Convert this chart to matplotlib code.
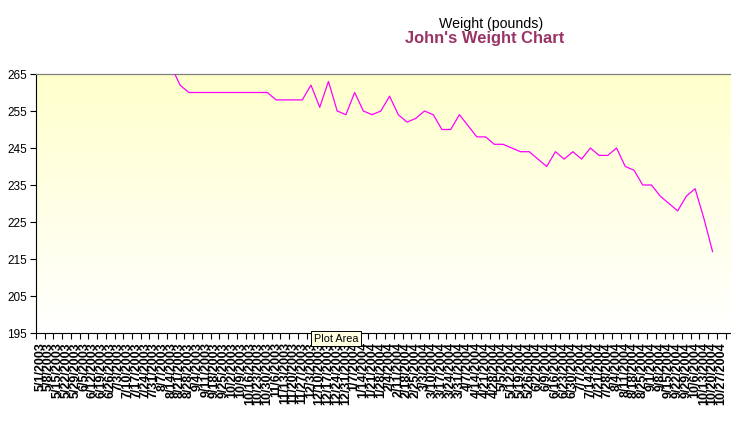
import numpy as np
import matplotlib
matplotlib.use("Agg")
import matplotlib.pyplot as plt
from matplotlib.colors import LinearSegmentedColormap

# weekly category labels
dates = [
    "5/1/2003", "5/8/2003", "5/15/2003", "5/22/2003", "5/29/2003",
    "6/5/2003", "6/12/2003", "6/19/2003", "6/26/2003",
    "7/3/2003", "7/10/2003", "7/17/2003", "7/24/2003", "7/31/2003",
    "8/7/2003", "8/14/2003", "8/21/2003", "8/28/2003",
    "9/4/2003", "9/11/2003", "9/18/2003", "9/25/2003",
    "10/2/2003", "10/9/2003", "10/16/2003", "10/23/2003", "10/30/2003",
    "11/6/2003", "11/13/2003", "11/20/2003", "11/27/2003",
    "12/3/2003", "12/10/2003", "12/17/2003", "12/24/2003", "12/31/2003",
    "1/7/2004", "1/14/2004", "1/21/2004", "1/28/2004",
    "2/4/2004", "2/11/2004", "2/18/2004", "2/25/2004",
    "3/3/2004", "3/10/2004", "3/17/2004", "3/24/2004", "3/31/2004",
    "4/7/2004", "4/14/2004", "4/21/2004", "4/28/2004",
    "5/5/2004", "5/12/2004", "5/19/2004", "5/26/2004",
    "6/2/2004", "6/9/2004", "6/16/2004", "6/23/2004", "6/30/2004",
    "7/7/2004", "7/14/2004", "7/21/2004", "7/28/2004",
    "8/4/2004", "8/11/2004", "8/18/2004", "8/25/2004",
    "9/1/2004", "9/8/2004", "9/15/2004", "9/22/2004", "9/29/2004",
    "10/6/2004", "10/13/2004", "10/20/2004", "10/27/2004",
]

# weight in pounds; the first weeks sit above the 265 top of the axis
weights = [
    278, 277, 276, 276, 275, 274, 273, 273, 272, 271, 270, 270, 269, 268, 268, 267,
    262, 260, 260, 260, 260, 260, 260, 260, 260, 260, 260,
    258, 258, 258, 258,
    262, 256, 263, 255, 254, 260, 255, 254, 255, 259,
    254, 252, 253, 255, 254, 250, 250, 254, 251, 248, 248,
    246, 246, 245, 244, 244, 242, 240, 244, 242, 244, 242,
    245, 243, 243, 245, 240, 239, 235, 235, 232, 230, 228,
    232, 234, 226, 217,
]

y_ticks = [195, 205, 215, 225, 235, 245, 255, 265]

W, H = 731, 423
plt.rcParams['font.family'] = ['Liberation Sans', 'DejaVu Sans']
fig = plt.figure(figsize=(W / 100, H / 100), dpi=100)
fig.patch.set_facecolor('white')

ax = fig.add_axes([36 / W, (H - 333) / H, (W - 36) / W, 259 / H])

# plot area: pale yellow fading to white
grad = np.linspace(0, 1, 256).reshape(-1, 1)
cmap = LinearSegmentedColormap.from_list('fill', ['#FFFFCC', '#FFFFFF'])
ax.imshow(grad, cmap=cmap, aspect='auto', extent=[0, 1, 0, 1],
          transform=ax.transAxes, zorder=0)

x = np.arange(len(weights))
ax.plot(x, weights, color='#FF00FF', lw=0.9, zorder=3)

step = 8.73
ax.set_xlim(-0.5, -0.5 + (W - 36) / step)
ax.set_ylim(195, 265)
ax.set_yticks(y_ticks)
ax.set_yticklabels([str(v) for v in y_ticks], fontsize=8.5)

ax.set_xticks(np.arange(len(dates)))
ax.set_xticklabels(dates, rotation=90, fontsize=9, fontweight='bold')
ax.set_xticks(np.arange(len(dates) + 1) - 0.5, minor=True)
ax.tick_params(axis='x', which='major', length=0, pad=6.5)
ax.tick_params(axis='x', which='minor', length=4, width=0.8, direction='out')
ax.tick_params(axis='y', length=4, width=0.8, direction='out', pad=2.5)

for side in ['left', 'bottom']:
    ax.spines[side].set_color('black')
    ax.spines[side].set_linewidth(0.8)
ax.spines['top'].set_color('#808080')
ax.spines['top'].set_linewidth(0.9)
ax.spines['right'].set_visible(False)

fig.text(491 / W, 1 - 24 / H, "Weight (pounds)", ha='center', va='center',
         fontsize=10.2, color='black')
fig.text(485 / W, 1 - 39 / H, "John's Weight Chart", ha='center', va='center',
         fontsize=11.9, fontweight='bold', color='#993366')

# the hover tip caught in the screenshot
fig.text(336 / W, 1 - 338.5 / H, "Plot Area", ha='center', va='center',
         fontsize=7.8, color='black', zorder=10,
         bbox=dict(boxstyle='square,pad=0.25', facecolor='#FFFFE1',
                   edgecolor='black', linewidth=0.7))

fig.savefig("out.png", dpi=100)
